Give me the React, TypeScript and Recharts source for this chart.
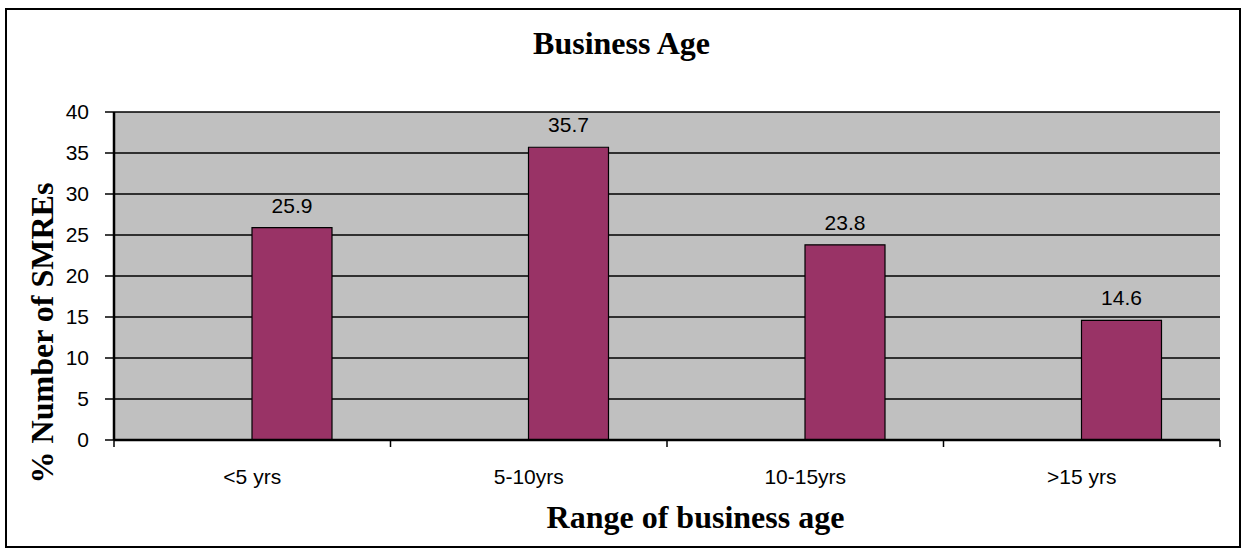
import React from "react";
import {
  BarChart,
  Bar,
  XAxis,
  YAxis,
  CartesianGrid,
  LabelList,
  ReferenceArea,
} from "recharts";

// Share of SMREs by business age band (%)
const ageRanges = ["<5 yrs", "5-10yrs", "10-15yrs", ">15 yrs"];
const shareOfSmres = [25.9, 35.7, 23.8, 14.6];
// Empty companion series: keeps each bar to the right of its category centre
const emptySeries = [null, null, null, null];
const yTicks = [0, 5, 10, 15, 20, 25, 30, 35, 40];

const chartTitle = "Business Age";
const xTitle = "Range of business age";
const yTitle = "% Number of SMREs";

const data = ageRanges.map((range, i) => ({
  range,
  spacer: emptySeries[i],
  share: shareOfSmres[i],
}));

const W = 1247;
const H = 551;
const sansFont = "'Liberation Sans', Arial, sans-serif";
const serifFont = "'Liberation Serif', 'Times New Roman', serif";

// Category label with a tick mark on the category boundary
function CategoryTick(props: any) {
  const { x, y, payload, index, visibleTicksCount } = props;
  const half = payload && typeof payload.offset === "number" ? payload.offset : 0;
  const isLast = index === visibleTicksCount - 1;
  return (
    <g>
      <line x1={x - half} x2={x - half} y1={y} y2={y + 7} stroke="#000" strokeWidth={1.5} />
      {isLast && (
        <line x1={x + half} x2={x + half} y1={y} y2={y + 7} stroke="#000" strokeWidth={1.5} />
      )}
      <text
        x={x}
        y={y + 44}
        textAnchor="middle"
        fontFamily={sansFont}
        fontSize={21}
        fill="#000"
      >
        {payload.value}
      </text>
    </g>
  );
}

export default function App() {
  return (
    <div
      style={{
        position: "absolute",
        left: 0,
        top: 0,
        width: W,
        height: H,
        background: "#fff",
      }}
    >
      <div
        style={{
          position: "absolute",
          left: 5,
          top: 8,
          width: 1236,
          height: 540,
          border: "2px solid #000",
          boxSizing: "border-box",
        }}
      />
      <div style={{ position: "absolute", left: 0, top: 0 }}>
        <BarChart
          width={W}
          height={H}
          data={data}
          margin={{ top: 112, right: 27, bottom: 71, left: 4 }}
          barSize={80}
          barGap={0}
        >
          <CartesianGrid
            vertical={false}
            fill="#c0c0c0"
            fillOpacity={1}
            stroke="#000"
            strokeWidth={1.5}
          />
          <ReferenceArea
            fill="none"
            stroke="#808080"
            strokeWidth={2}
            ifOverflow="visible"
          />
          <XAxis
            dataKey="range"
            height={40}
            axisLine={{ stroke: "#000", strokeWidth: 2.5 }}
            tickLine={false}
            tickSize={0}
            tickMargin={0}
            tick={<CategoryTick />}
            interval={0}
          />
          <YAxis
            width={110}
            domain={[0, 40]}
            ticks={yTicks}
            interval={0}
            axisLine={{ stroke: "#000", strokeWidth: 2.5 }}
            tickLine={{ stroke: "#000", strokeWidth: 1.5 }}
            tickSize={9}
            tickMargin={16}
            tick={{ fontFamily: sansFont, fontSize: 21, fill: "#000" }}
          />
          <Bar dataKey="spacer" fill="none" isAnimationActive={false} />
          <Bar
            dataKey="share"
            fill="#993366"
            stroke="#000"
            strokeWidth={1.2}
            isAnimationActive={false}
          >
            <LabelList
              dataKey="share"
              position="top"
              offset={15}
              fontFamily={sansFont}
              fontSize={21}
              fill="#000"
            />
          </Bar>
        </BarChart>
      </div>
      <svg
        width={W}
        height={H}
        style={{ position: "absolute", left: 0, top: 0, pointerEvents: "none" }}
      >
        <text
          x={621.5}
          y={54}
          textAnchor="middle"
          fontFamily={serifFont}
          fontWeight="bold"
          fontSize={32}
          fill="#000"
        >
          {chartTitle}
        </text>
        <text
          x={695.5}
          y={528}
          textAnchor="middle"
          fontFamily={serifFont}
          fontWeight="bold"
          fontSize={32}
          fill="#000"
        >
          {xTitle}
        </text>
        <text
          transform="translate(53, 333) rotate(-90)"
          textAnchor="middle"
          fontFamily={serifFont}
          fontWeight="bold"
          fontSize={32}
          fill="#000"
        >
          {yTitle}
        </text>
      </svg>
    </div>
  );
}
